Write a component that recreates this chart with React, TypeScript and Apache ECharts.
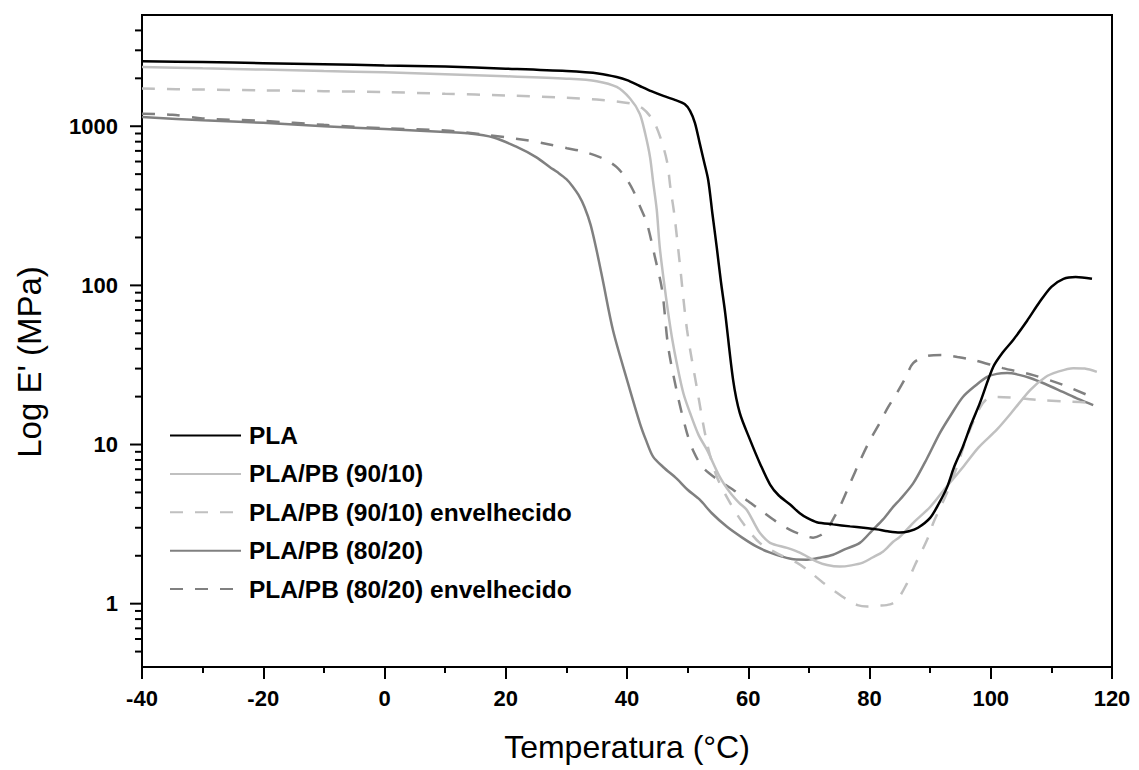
import React, { useEffect, useRef } from "react";
import * as echarts from "echarts";

// ---------- data (temperature °C, E' MPa) ----------
const plaT = [-40, -30, -20, -10, 0, 10, 20, 30, 35.5, 38.3, 40, 42.1, 44, 46, 48, 49.5, 50.4, 51.2, 52, 52.7, 53.4, 54.1, 54.8, 55.5, 56.2, 57.5, 58.6, 60.3, 62, 63.6, 65, 66.9, 68.5, 69.7, 71.3, 74, 76.8, 79, 81.2, 83, 85, 86.5, 88, 90, 91.5, 92.8, 94, 95.4, 96.8, 98.2, 100.4, 102, 103.7, 106, 108, 110, 112, 114, 116.7];
const plaE = [2560, 2530, 2490, 2450, 2410, 2370, 2300, 2220, 2140, 2040, 1950, 1790, 1660, 1550, 1460, 1380, 1250, 1050, 780, 600, 458, 280, 174, 105, 67, 25.5, 15.8, 10.7, 7.5, 5.6, 4.8, 4.2, 3.7, 3.46, 3.25, 3.15, 3.06, 3.0, 2.93, 2.85, 2.8, 2.85, 3.0, 3.46, 4.3, 5.4, 7.3, 9.7, 13.5, 18.2, 30.7, 38, 45.4, 60, 78, 98, 110, 113, 110];

const pb9010T = [-40, -30, -20, -10, 0, 10, 20, 30, 35, 38.3, 40.5, 42.1, 43, 43.8, 44.3, 44.9, 45.4, 46.1, 46.8, 47.5, 48.2, 49.3, 50.4, 51.8, 53.2, 55.3, 57, 58.5, 59.7, 61, 61.9, 63.6, 66.4, 68.5, 71.3, 73, 75.1, 77, 78.9, 80.5, 82.2, 83.9, 85, 87.5, 90, 92.5, 95.4, 98, 101, 103.5, 106.5, 109, 111, 113.6, 115.5, 117.5];
const pb9010E = [2357, 2310, 2270, 2220, 2180, 2120, 2060, 1990, 1920, 1765, 1493, 1200, 900, 640, 450, 300, 174, 105, 67, 45, 32.5, 21, 15.8, 11.5, 9.25, 6.27, 5.0, 4.3, 3.9, 3.2, 2.79, 2.41, 2.24, 2.09, 1.84, 1.75, 1.71, 1.74, 1.81, 1.95, 2.12, 2.45, 2.63, 3.3, 4.05, 5.3, 7.2, 9.6, 12.4, 16, 22, 26.5, 28.6, 30.2, 30, 28.6];

const pb9010agedT = [-40, -30, -20, -10, 0, 10, 20, 30, 35, 40.5, 42.5, 44.3, 45.5, 46.6, 47.2, 47.8, 48.7, 49.9, 51.5, 53.2, 54.8, 57, 59.1, 61.9, 65, 68, 70, 72.3, 74.5, 76.3, 78, 79.6, 81.5, 83.4, 84.5, 86, 87.5, 89.5, 90.5, 92.8, 94.4, 96.1, 98.2, 99.5, 101.2, 105, 108.1, 112, 114.7, 117.2];
const pb9010agedE = [1725, 1700, 1680, 1660, 1640, 1600, 1560, 1510, 1472, 1394, 1300, 1090, 850, 600, 400, 280, 138, 52.6, 23, 10.2, 6.3, 4.3, 3.22, 2.41, 2.05, 1.81, 1.6, 1.36, 1.18, 1.06, 0.98, 0.96, 0.97, 0.99, 1.05, 1.3, 1.75, 2.52, 3.2, 5.0, 7.2, 11.2, 17, 19.5, 19.9, 19.5, 19, 18.7, 18.5, 18.2];

const pb8020T = [-40, -30, -20, -10, 0, 10, 13.6, 18, 21.9, 25, 27.3, 28.5, 30, 31, 32, 33, 34, 35, 36, 37.7, 40, 42.1, 43.2, 44.3, 46, 48.2, 50, 52, 54, 56.5, 59, 61.4, 63.5, 65.7, 67.5, 69.7, 72, 74, 76, 78.4, 80.5, 82.2, 84, 85, 87.2, 89.5, 91.6, 93.5, 95.4, 97.5, 99.4, 101, 102.7, 104.5, 106.5, 109, 111.9, 114.5, 116.9];
const pb8020E = [1144, 1090, 1050, 1000, 960, 920, 904, 850, 738, 640, 553, 515, 465, 420, 370, 310, 240, 165, 108, 52, 25.5, 13.7, 10.5, 8.4, 7.2, 6.1, 5.2, 4.5, 3.7, 3.04, 2.6, 2.28, 2.1, 1.97, 1.9, 1.89, 1.95, 2.03, 2.2, 2.41, 2.9, 3.37, 4.1, 4.5, 5.7, 8.2, 11.8, 15.5, 19.9, 23.5, 26.6, 27.8, 28.1, 27.5, 26.2, 24, 21.4, 19.3, 17.7];

const pb8020agedT = [-40, -35, -30, -20, -10, 0, 10, 17, 23.5, 27, 30.1, 33, 35.5, 37, 38.3, 39.7, 41, 42.2, 43.3, 44.6, 45.8, 46.8, 48.4, 49.9, 51, 52.5, 55, 57.5, 60, 61.9, 64.5, 66.9, 69, 70.7, 72, 73, 74, 75.1, 76.8, 78.5, 80, 81.7, 83, 84.5, 86, 87.2, 89.5, 92.1, 94.5, 97.1, 102, 107, 111.9, 115.9];
const pb8020agedE = [1200, 1180, 1120, 1080, 1020, 970, 940, 880, 817, 770, 728, 690, 640, 600, 553, 480, 396, 310, 245, 151, 93, 41, 20, 11.8, 9, 7.2, 6.0, 5.2, 4.4, 3.9, 3.3, 2.91, 2.7, 2.6, 2.7, 2.91, 3.4, 4.05, 5.7, 8, 10.5, 13.7, 17, 21, 26.5, 32.5, 36, 36.5, 35.5, 34, 30.2, 27.3, 23.7, 20.5];

const seriesNames = [
  "PLA",
  "PLA/PB (90/10)",
  "PLA/PB (90/10) envelhecido",
  "PLA/PB (80/20)",
  "PLA/PB (80/20) envelhecido",
];

const xMin = -40;
const xMax = 120;
const xInterval = 20;
const yMin = 0.4;
const yMax = 5000;
const yMajorTicks = [1, 10, 100, 1000];
const yMinorTicks = [0.5, 0.6, 0.7, 0.8, 0.9, 2, 3, 4, 5, 6, 7, 8, 9, 20, 30, 40, 50, 60, 70, 80, 90, 200, 300, 400, 500, 600, 700, 800, 900, 2000, 3000, 4000];

const FONT = 'Arial, "Liberation Sans", Helvetica, sans-serif';

function zip(t: number[], e: number[]) {
  return t.map((x, i) => [x, e[i]]);
}

export default function App() {
  const ref = useRef<HTMLDivElement>(null);

  useEffect(() => {
    if (!ref.current) return;
    const chart = echarts.init(ref.current, null, { renderer: "svg" });

    const styles = [
      { color: "#000000", type: "solid" },
      { color: "#c0c0c0", type: "solid" },
      { color: "#c0c0c0", type: [13, 12] },
      { color: "#808080", type: "solid" },
      { color: "#808080", type: [13, 12] },
    ];
    const datasets = [
      zip(plaT, plaE),
      zip(pb9010T, pb9010E),
      zip(pb9010agedT, pb9010agedE),
      zip(pb8020T, pb8020E),
      zip(pb8020agedT, pb8020agedE),
    ];

    const lineSeries = datasets.map((d, i) => ({
      type: "line",
      name: seriesNames[i],
      data: d,
      showSymbol: false,
      symbol: "none",
      smooth: 0.3,
      z: 10 - i,
      lineStyle: { color: styles[i].color, width: 2.5, type: styles[i].type },
      itemStyle: { color: styles[i].color },
    }));

    const tickData = [
      ...yMajorTicks.map((v) => [xMin, v, 1]),
      ...yMinorTicks.map((v) => [xMin, v, 0]),
    ];

    const option = {
      animation: false,
      backgroundColor: "#ffffff",
      grid: {
        left: 142,
        right: 27,
        top: 15,
        bottom: 103,
        show: true,
        borderColor: "#000",
        borderWidth: 2,
        backgroundColor: "transparent",
      },
      legend: {
        data: seriesNames,
        orient: "vertical",
        left: 169,
        top: 423,
        padding: 0,
        itemWidth: 71,
        itemHeight: 14,
        itemGap: 13.4,
        itemStyle: { opacity: 0, borderWidth: 0 },
        textStyle: {
          fontFamily: FONT,
          fontWeight: "bold",
          fontSize: 24.5,
          color: "#000",
          padding: [0, 0, 0, 3],
        },
      },
      xAxis: {
        type: "value",
        min: xMin,
        max: xMax,
        interval: xInterval,
        name: "Temperatura (°C)",
        nameLocation: "middle",
        nameGap: 64,
        nameTextStyle: { fontFamily: FONT, fontSize: 32, color: "#000" },
        axisLine: { show: true, onZero: false, lineStyle: { color: "#000", width: 2 } },
        axisTick: { show: true, length: 12, lineStyle: { color: "#000", width: 2 } },
        minorTick: { show: true, splitNumber: 2, length: 6, lineStyle: { color: "#000", width: 2 } },
        axisLabel: {
          fontFamily: FONT,
          fontWeight: "bold",
          fontSize: 22,
          color: "#000",
          margin: 20,
        },
        splitLine: { show: false },
      },
      yAxis: {
        type: "log",
        logBase: 10,
        min: yMin,
        max: yMax,
        axisLine: { show: true, onZero: false, lineStyle: { color: "#000", width: 2 } },
        axisTick: { show: false },
        axisLabel: {
          fontFamily: FONT,
          fontWeight: "bold",
          fontSize: 22,
          color: "#000",
          margin: 24,
          formatter: (v: number) => {
            const l = Math.log10(v);
            return Math.abs(l - Math.round(l)) < 1e-6 && v >= 1 ? String(Math.round(v)) : "";
          },
        },
        splitLine: { show: false },
      },
      graphic: [
        {
          type: "text",
          x: 29,
          y: 362,
          rotation: Math.PI / 2,
          style: {
            text: "Log E' (MPa)",
            fontFamily: FONT,
            fontSize: 33,
            fill: "#000",
            align: "center",
            verticalAlign: "middle",
          },
        },
      ],
      series: [
        ...lineSeries,
        {
          type: "custom",
          name: "yTicks",
          silent: true,
          clip: false,
          data: tickData,
          encode: { x: 0, y: 1 },
          renderItem: (params: any, api: any) => {
            const p = api.coord([api.value(0), api.value(1)]);
            const len = api.value(2) ? 12 : 7;
            return {
              type: "line",
              shape: { x1: p[0] - len, y1: p[1], x2: p[0], y2: p[1] },
              style: { stroke: "#000", lineWidth: 2 },
            };
          },
        },
      ],
    };

    chart.setOption(option as any);
    return () => chart.dispose();
  }, []);

  return (
    <div
      ref={ref}
      style={{ position: "absolute", left: 0, top: 0, width: 1139, height: 770, background: "#fff" }}
    />
  );
}
